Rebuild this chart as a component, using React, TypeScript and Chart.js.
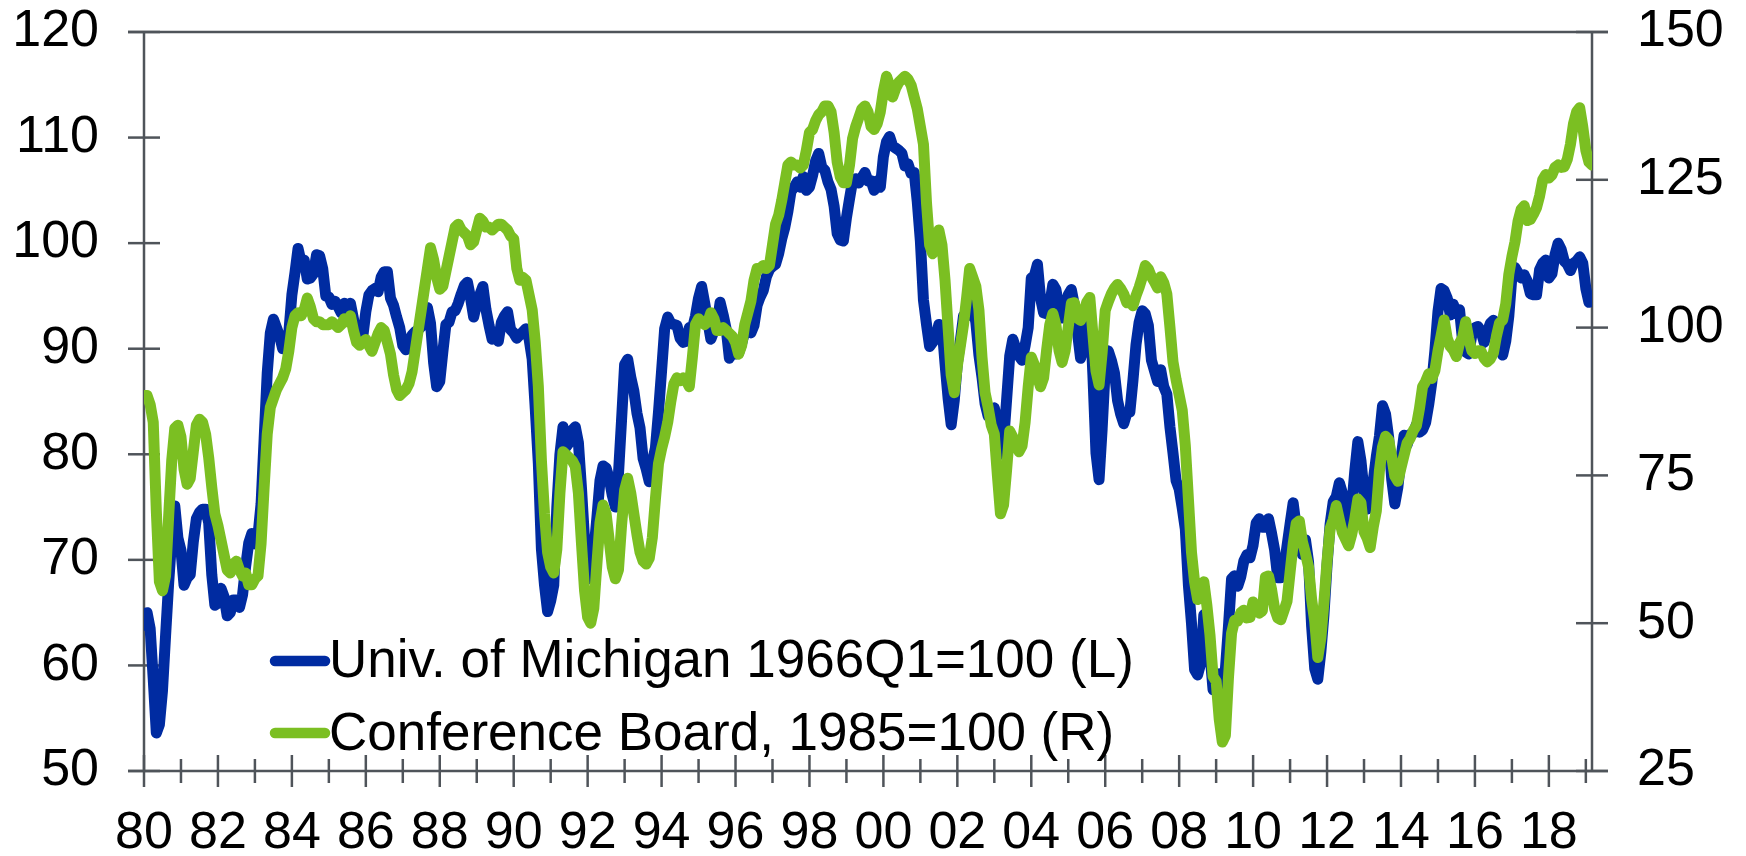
import React, { useEffect, useRef } from 'react';
import { Chart, registerables } from 'chart.js';

Chart.register(...registerables);

// ---------------- data (monthly, Jan 1980 .. Mar 2019) ----------------
const START_YEAR = 1980;

// Univ. of Michigan consumer sentiment, 1966Q1=100 (left axis)
const michigan: number[] = [
  63.8, 65.0, 63.5, 58.7, 53.6, 54.4, 57.6, 62.8, 67.8, 72.0, 75.1, 72.1, // 1980
  70.9, 67.6, 68.3, 68.6, 71.7, 73.9, 74.5, 74.8, 74.8, 73.5, 68.6, 65.7, // 1981
  65.9, 67.3, 66.5, 64.7, 65.0, 66.2, 66.2, 65.5, 66.7, 69.4, 71.6, 72.5, // 1982
  71.5, 72.3, 75.3, 81.5, 87.7, 91.5, 92.8, 92.0, 91.2, 90.0, 90.1, 91.5, // 1983
  95.1, 97.2, 99.5, 98.2, 98.4, 96.6, 96.7, 97.1, 98.9, 98.8, 97.6, 95.0, // 1984
  94.9, 94.2, 94.5, 94.0, 93.4, 94.3, 94.1, 94.3, 92.8, 91.0, 90.5, 91.1, // 1985
  93.5, 95.1, 95.5, 95.7, 95.4, 96.8, 97.3, 97.3, 94.8, 94.1, 93.0, 92.0, // 1986
  90.3, 89.9, 90.5, 91.3, 91.6, 91.8, 92.1, 93.2, 93.9, 92.4, 88.7, 86.4, // 1987
  86.9, 89.7, 92.3, 92.5, 93.5, 93.6, 94.3, 95.2, 96.0, 96.3, 94.8, 93.0, // 1988
  94.3, 95.1, 95.9, 93.7, 92.2, 90.9, 91.1, 90.7, 92.5, 93.1, 93.5, 91.8, // 1989
  91.5, 91.0, 91.3, 91.6, 91.9, 90.9, 89.0, 84.3, 79.1, 71.0, 67.6, 65.1, // 1990
  66.1, 67.6, 75.0, 80.0, 82.6, 80.7, 81.1, 82.3, 82.6, 81.1, 76.8, 71.9, // 1991
  68.3, 68.2, 70.8, 74.0, 77.5, 78.9, 78.7, 77.7, 76.1, 75.0, 78.1, 83.2, // 1992
  88.5, 89.0, 87.3, 86.0, 83.9, 82.5, 79.6, 78.6, 77.4, 79.3, 80.6, 84.0, // 1993
  87.9, 91.9, 93.0, 92.4, 92.3, 92.2, 91.0, 90.6, 90.7, 92.0, 91.9, 93.1, // 1994
  94.8, 95.9, 94.3, 92.6, 90.9, 91.7, 92.3, 94.4, 93.2, 91.8, 89.1, 89.8, // 1995
  89.5, 89.6, 90.5, 91.6, 91.9, 91.5, 92.2, 94.1, 94.9, 95.5, 96.8, 97.5, // 1996
  97.8, 98.0, 99.0, 100.4, 101.5, 103.0, 104.9, 105.3, 105.8, 105.3, 106.3, 105.0, // 1997
  105.3, 106.4, 107.8, 108.5, 107.2, 106.9, 105.8, 105.1, 103.5, 100.9, 100.3, 100.2, // 1998
  102.4, 104.2, 105.9, 106.1, 105.7, 106.2, 106.7, 105.9, 105.9, 105.0, 105.9, 105.3, // 1999
  108.2, 109.6, 110.1, 109.2, 109.0, 108.8, 108.5, 107.3, 107.5, 106.6, 106.7, 103.9, // 2000
  100.2, 94.6, 92.3, 90.2, 90.6, 91.0, 92.3, 92.2, 88.6, 85.3, 82.8, 85.1, // 2001
  88.6, 90.8, 93.1, 93.1, 95.2, 94.1, 92.5, 89.4, 87.3, 84.8, 83.6, 83.8, // 2002
  84.4, 83.0, 80.0, 81.2, 85.2, 89.3, 90.9, 90.0, 89.3, 88.9, 90.3, 92.0, // 2003
  96.7, 96.9, 98.0, 94.8, 93.4, 93.3, 94.2, 96.1, 95.6, 93.9, 92.9, 93.9, // 2004
  95.1, 95.6, 94.1, 91.5, 89.1, 90.2, 93.1, 93.9, 87.5, 80.1, 77.6, 82.4, // 2005
  88.1, 89.8, 88.9, 87.7, 85.1, 83.8, 82.9, 83.9, 84.0, 87.0, 90.4, 92.5, // 2006
  93.6, 93.3, 92.2, 88.9, 87.9, 86.9, 88.0, 86.4, 85.7, 82.6, 80.1, 77.5, // 2007
  76.7, 74.9, 72.9, 67.6, 64.0, 59.6, 59.1, 60.2, 64.8, 63.6, 61.1, 57.7, // 2008
  58.9, 59.2, 58.3, 59.6, 63.7, 68.2, 68.5, 67.5, 68.4, 69.9, 70.5, 70.2, // 2009
  71.4, 73.5, 73.9, 73.1, 73.1, 73.9, 72.5, 70.9, 68.3, 68.3, 69.2, 71.3, // 2010
  73.4, 75.4, 73.1, 71.6, 70.5, 71.9, 69.8, 63.7, 59.7, 58.7, 61.3, 64.8, // 2011
  69.5, 73.4, 75.5, 76.0, 77.3, 76.3, 74.9, 73.3, 75.0, 78.4, 81.2, 79.4, // 2012
  76.5, 74.8, 76.7, 77.5, 79.8, 81.7, 84.6, 83.8, 81.6, 77.6, 75.3, 76.9, // 2013
  79.6, 81.8, 80.9, 81.9, 82.0, 82.8, 82.1, 82.3, 83.0, 84.7, 86.8, 89.8, // 2014
  93.5, 95.7, 95.5, 94.8, 93.2, 94.2, 93.3, 93.7, 90.7, 89.7, 89.5, 91.3, // 2015
  92.0, 92.1, 91.6, 90.6, 91.6, 92.4, 92.7, 91.1, 90.3, 89.4, 90.7, 93.1, // 2016
  96.8, 97.7, 97.2, 96.7, 97.0, 96.4, 95.2, 95.1, 95.1, 97.5, 98.1, 98.4, // 2017
  96.7, 97.1, 98.9, 100.0, 99.4, 98.3, 98.0, 97.4, 98.1, 98.3, 98.7, 98.1, // 2018
  95.7, 94.4, 94.5, // 2019
];

// Conference Board consumer confidence, 1985=100 (right axis)
const confBoard: number[] = [
  88.5, 88.5, 87.0, 84.0, 69.0, 57.0, 55.5, 58.0, 68.0, 77.5, 83.0, 83.5, // 1980
  81.5, 76.0, 73.5, 74.5, 79.0, 83.5, 84.5, 84.0, 82.0, 78.0, 73.0, 68.5, // 1981
  66.5, 64.0, 61.5, 59.0, 58.5, 60.0, 60.5, 59.0, 58.0, 58.5, 56.5, 56.5, // 1982
  57.5, 58.0, 63.5, 73.0, 82.0, 86.5, 88.0, 89.5, 90.5, 91.5, 93.0, 96.0, // 1983
  100.0, 102.0, 102.5, 102.0, 103.0, 105.0, 103.5, 101.5, 101.0, 101.0, 100.5, 100.5, // 1984
  100.5, 101.0, 100.5, 100.0, 100.5, 101.5, 101.0, 102.0, 99.5, 97.5, 97.0, 97.5, // 1985
  98.0, 97.0, 96.0, 97.5, 99.0, 100.0, 99.5, 97.5, 95.5, 92.0, 89.5, 88.5, // 1986
  89.0, 89.5, 90.5, 92.5, 96.0, 99.5, 103.0, 106.5, 110.0, 113.5, 111.5, 108.5, // 1987
  106.5, 107.0, 109.5, 112.0, 114.5, 117.0, 117.5, 116.5, 116.0, 115.5, 114.0, 114.5, // 1988
  116.5, 118.5, 118.0, 117.0, 117.0, 116.5, 117.0, 117.5, 117.5, 117.0, 116.5, 115.5, // 1989
  115.0, 110.0, 108.0, 108.5, 108.0, 105.5, 103.0, 97.5, 90.0, 77.5, 68.5, 62.0, // 1990
  59.5, 58.5, 62.5, 72.0, 79.0, 78.5, 78.0, 77.5, 76.5, 72.0, 63.5, 55.5, // 1991
  51.0, 50.0, 52.5, 60.0, 67.0, 70.0, 68.5, 64.0, 59.5, 57.5, 59.0, 66.5, // 1992
  72.5, 74.5, 72.0, 68.5, 65.0, 62.0, 60.5, 60.0, 61.0, 64.5, 71.0, 77.0, // 1993
  79.5, 81.5, 84.0, 87.5, 90.5, 91.5, 91.0, 91.5, 91.0, 90.0, 95.0, 100.5, // 1994
  101.5, 101.0, 100.5, 101.0, 102.5, 101.5, 99.5, 99.5, 100.0, 99.5, 99.0, 98.5, // 1995
  97.5, 95.5, 97.0, 100.5, 102.5, 104.5, 108.0, 110.0, 110.0, 110.5, 110.0, 110.5, // 1996
  114.0, 117.5, 119.0, 121.5, 124.5, 127.5, 128.0, 127.5, 127.5, 127.0, 127.5, 130.0, // 1997
  133.0, 133.5, 135.0, 136.0, 136.5, 137.5, 137.5, 136.5, 133.0, 128.0, 125.5, 124.5, // 1998
  124.5, 127.5, 132.0, 134.0, 135.5, 137.0, 137.5, 136.5, 134.0, 133.5, 134.5, 136.5, // 1999
  140.0, 142.5, 141.0, 139.0, 140.5, 141.5, 142.0, 142.5, 142.0, 141.0, 139.0, 137.0, // 2000
  134.0, 131.0, 121.0, 114.0, 112.5, 115.0, 116.5, 114.0, 108.0, 100.0, 92.0, 89.0, // 2001
  93.5, 97.0, 100.5, 105.0, 110.0, 108.5, 107.0, 103.0, 95.0, 89.0, 86.5, 83.5, // 2002
  82.0, 75.0, 68.5, 70.0, 76.0, 82.5, 81.5, 80.5, 79.0, 80.0, 84.0, 90.0, // 2003
  95.0, 93.7, 91.6, 90.0, 91.5, 96.3, 100.5, 102.4, 100.4, 96.1, 94.1, 96.1, // 2004
  100.1, 104.1, 104.2, 101.6, 101.2, 102.3, 104.3, 105.1, 98.9, 92.7, 90.3, 95.8, // 2005
  102.9, 104.4, 105.7, 106.7, 107.3, 106.6, 105.7, 104.2, 104.4, 103.7, 105.4, 106.8, // 2006
  108.5, 110.5, 109.9, 108.6, 107.7, 106.7, 108.6, 107.6, 105.7, 100.1, 94.2, 91.2, // 2007
  88.6, 86.0, 80.0, 71.0, 62.0, 57.0, 54.0, 54.5, 57.0, 53.0, 48.0, 41.0, // 2008
  40.2, 33.8, 29.9, 31.0, 40.8, 48.3, 50.5, 50.4, 51.8, 52.2, 50.9, 51.0, // 2009
  53.6, 52.2, 51.7, 52.1, 57.8, 58.0, 55.7, 52.4, 50.9, 50.6, 52.1, 53.7, // 2010
  58.6, 63.4, 66.9, 67.3, 63.8, 61.8, 59.5, 54.0, 50.3, 44.2, 47.5, 53.6, // 2011
  60.5, 66.0, 67.5, 69.9, 67.5, 65.3, 64.2, 63.1, 65.0, 67.6, 71.0, 70.4, // 2012
  65.5, 64.4, 62.8, 66.3, 69.0, 75.8, 79.8, 81.6, 81.0, 78.1, 74.9, 74.0, // 2013
  76.3, 78.4, 80.5, 81.3, 82.6, 83.4, 86.3, 90.0, 90.9, 92.2, 91.4, 92.7, // 2014
  96.0, 98.6, 101.3, 98.2, 96.8, 96.2, 95.1, 97.4, 98.3, 101.0, 98.1, 96.1, // 2015
  95.6, 96.1, 96.0, 94.8, 94.2, 94.7, 95.7, 98.6, 100.8, 101.3, 104.0, 109.0, // 2016
  112.0, 114.5, 118.0, 120.0, 120.6, 118.1, 118.3, 119.2, 120.3, 122.3, 125.0, 125.9, // 2017
  125.3, 125.8, 127.1, 127.5, 127.1, 127.2, 128.5, 131.0, 134.5, 136.5, 137.2, 134.0, // 2018
  130.0, 128.0, 127.5, // 2019
];

const leftTicks = [50, 60, 70, 80, 90, 100, 110, 120];
const rightTicks = [25, 50, 75, 100, 125, 150];
const yearTicks = [
  1980, 1981, 1982, 1983, 1984, 1985, 1986, 1987, 1988, 1989,
  1990, 1991, 1992, 1993, 1994, 1995, 1996, 1997, 1998, 1999,
  2000, 2001, 2002, 2003, 2004, 2005, 2006, 2007, 2008, 2009,
  2010, 2011, 2012, 2013, 2014, 2015, 2016, 2017, 2018, 2019,
];
const labeledYears = [1980, 1982, 1984, 1986, 1988, 1990, 1992, 1994, 1996, 1998,
  2000, 2002, 2004, 2006, 2008, 2010, 2012, 2014, 2016, 2018];

const seriesNames = ['Univ. of Michigan 1966Q1=100 (L)', 'Conference Board, 1985=100 (R)'];
const BLUE = '#002BA1';
const GREEN = '#7BBF22';
const AXIS = '#4F545A';
const FONT = '"Liberation Sans", Arial, Helvetica, sans-serif';

const toPoints = (arr: number[]) => arr.map((v, i) => ({ x: START_YEAR + i / 12, y: v }));

export default function App() {
  const ref = useRef<HTMLCanvasElement | null>(null);

  useEffect(() => {
    const canvas = ref.current;
    if (!canvas) return;

    const axesPlugin = {
      id: 'axesPlugin',
      beforeDatasetsDraw(chart: any) {
        const { ctx, chartArea: a, scales } = chart;
        ctx.save();
        ctx.strokeStyle = AXIS;
        ctx.lineWidth = 2.5;
        ctx.lineCap = 'butt';
        const line = (x1: number, y1: number, x2: number, y2: number) => {
          ctx.beginPath();
          ctx.moveTo(x1, y1);
          ctx.lineTo(x2, y2);
          ctx.stroke();
        };
        line(a.left, a.top, a.left, a.bottom);
        line(a.right, a.top, a.right, a.bottom);
        line(a.left - 16, a.top, a.right + 16, a.top);
        line(a.left - 16, a.bottom, a.right + 16, a.bottom);
        leftTicks.forEach((v) => {
          const y = scales.y.getPixelForValue(v);
          line(a.left - 16, y, a.left + 16, y);
        });
        rightTicks.forEach((v) => {
          const y = scales.y2.getPixelForValue(v);
          line(a.right - 16, y, a.right + 16, y);
        });
        yearTicks.forEach((yr) => {
          const x = scales.x.getPixelForValue(yr);
          const len = labeledYears.includes(yr) ? 16 : 12;
          line(x, a.bottom - len, x, a.bottom + len);
        });
        ctx.restore();
      },
    };

    const legendPlugin = {
      id: 'legendPlugin',
      afterDatasetsDraw(chart: any) {
        const { ctx, chartArea: a } = chart;
        ctx.save();
        const colors = [BLUE, GREEN];
        seriesNames.forEach((name, i) => {
          const yc = 661 + i * 72;
          ctx.strokeStyle = colors[i];
          ctx.lineWidth = 10.5;
          ctx.lineCap = 'round';
          ctx.beginPath();
          ctx.moveTo(a.left + 131, yc);
          ctx.lineTo(a.left + 181, yc);
          ctx.stroke();
          ctx.fillStyle = '#000';
          ctx.font = `53px ${FONT}`;
          ctx.textBaseline = 'alphabetic';
          ctx.textAlign = 'left';
          ctx.fillText(name, a.left + 185, 677 + i * 73);
        });
        ctx.restore();
      },
    };

    const tickFont = { family: FONT, size: 52, lineHeight: 1.2 };
    const fitY = (w: number) => (s: any) => {
      s.width = w;
      s.paddingTop = 0;
      s.paddingBottom = 0;
    };

    const chart = new Chart(canvas, {
      type: 'line',
      data: {
        datasets: [
          {
            label: seriesNames[0],
            data: toPoints(michigan),
            yAxisID: 'y',
            borderColor: BLUE,
            backgroundColor: BLUE,
            borderWidth: 11,
            pointRadius: 0,
            tension: 0,
            borderJoinStyle: 'round',
            borderCapStyle: 'round',
            order: 2,
          },
          {
            label: seriesNames[1],
            data: toPoints(confBoard),
            yAxisID: 'y2',
            borderColor: GREEN,
            backgroundColor: GREEN,
            borderWidth: 11,
            pointRadius: 0,
            tension: 0,
            borderJoinStyle: 'round',
            borderCapStyle: 'round',
            order: 1,
          },
        ],
      } as any,
      options: {
        animation: false,
        responsive: false,
        devicePixelRatio: 1,
        layout: { padding: { top: 32, left: 0, right: 0, bottom: 0 } },
        plugins: { legend: { display: false }, tooltip: { enabled: false } },
        scales: {
          x: {
            type: 'linear',
            min: START_YEAR,
            max: START_YEAR + (michigan.length - 1) / 12,
            grid: { display: false, drawTicks: false },
            border: { display: false },
            afterFit: (s: any) => {
              s.height = 85;
              s.paddingLeft = 0;
              s.paddingRight = 0;
            },
            ticks: {
              stepSize: 1,
              autoSkip: false,
              maxRotation: 0,
              minRotation: 0,
              includeBounds: false,
              padding: 31,
              color: '#000',
              font: tickFont,
              callback: (v: any) => {
                const n = Number(v);
                if (!labeledYears.includes(n)) return '';
                return String(n % 100).padStart(2, '0');
              },
            },
          },
          y: {
            type: 'linear',
            position: 'left',
            min: 50,
            max: 120,
            grid: { display: false, drawTicks: false },
            border: { display: false },
            afterFit: fitY(144),
            ticks: { stepSize: 10, padding: 45, color: '#000', font: tickFont },
          },
          y2: {
            type: 'linear',
            position: 'right',
            min: 25,
            max: 150,
            grid: { display: false, drawTicks: false },
            border: { display: false },
            afterFit: fitY(154),
            ticks: { stepSize: 25, padding: 45, color: '#000', font: tickFont },
          },
        },
      } as any,
      plugins: [axesPlugin, legendPlugin],
    });

    return () => chart.destroy();
  }, []);

  return (
    <div style={{ position: 'fixed', left: 0, top: 0, width: 1746, height: 856, background: '#fff' }}>
      <canvas ref={ref} width={1746} height={856} style={{ display: 'block' }} />
    </div>
  );
}
